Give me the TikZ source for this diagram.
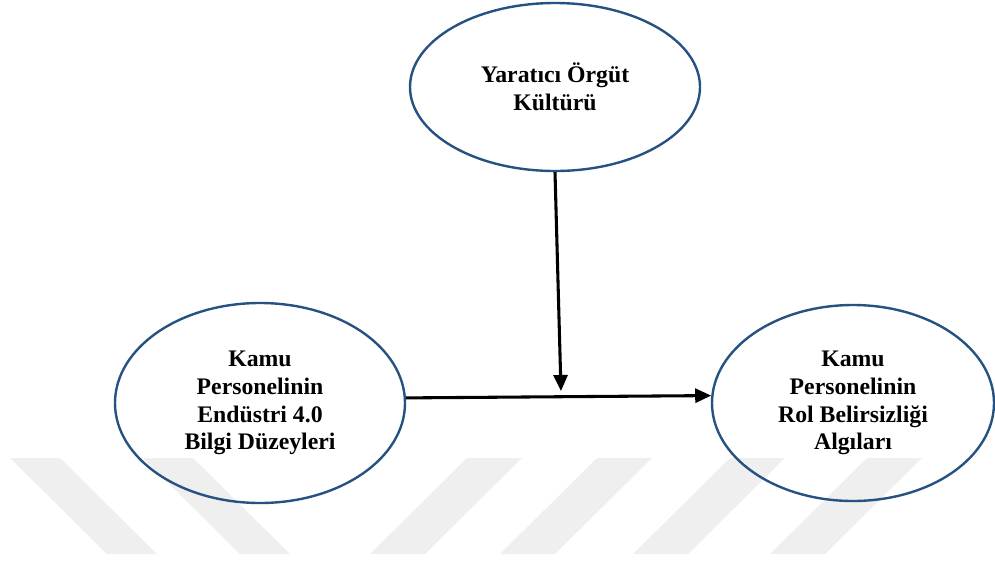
\documentclass[tikz,border=0pt]{standalone}
\usepackage{fontspec}
\setmainfont{Liberation Serif}
\usepackage{xcolor}
\usepackage{tikz}
\usetikzlibrary{arrows.meta,shapes.geometric,calc}
\definecolor{elblue}{RGB}{37,82,128}
\definecolor{wmgray}{RGB}{239,239,239}

\begin{document}
\begin{tikzpicture}[x=0.75pt,y=-0.75pt,>={Triangle[length=12pt,width=10.5pt]},
  varbox/.style={ellipse,draw=elblue,line width=1.8pt,inner sep=0pt,align=center,
    font=\bfseries\fontsize{17.8}{20.8}\selectfont},
  link/.style={->,line width=2.3pt,black}]
  \useasboundingbox (0,0) rectangle (995,561);
  % watermark stripes
  \foreach \sx in {10,143}
    \fill[wmgray] (\sx,458) -- ++(50,0) -- ++(97,96) -- ++(-50,0) -- cycle;
  \foreach \sx in {467,597,730,867}
    \fill[wmgray] (\sx,458) -- ++(55,0) -- ++(-97,96) -- ++(-55,0) -- cycle;
  % variables
  \node[varbox,minimum width=217.5pt,minimum height=126pt] (orgut) at (555,87)
    {Yaratıcı Örgüt\\Kültürü};
  \node[varbox,minimum width=217.5pt,minimum height=150pt] (endustri) at (260,403)
    {Kamu\\Personelinin\\Endüstri 4.0\\Bilgi Düzeyleri};
  \node[varbox,minimum width=211.5pt,minimum height=147pt] (rol) at (853,403)
    {Kamu\\Personelinin\\Rol Belirsizliği\\Algıları};
  \coordinate (mod) at (561,391);
  % paths
  \draw[link] (endustri.2) -- (rol.177);
  \draw[link] (orgut.south) -- (mod);
\end{tikzpicture}
\end{document}
